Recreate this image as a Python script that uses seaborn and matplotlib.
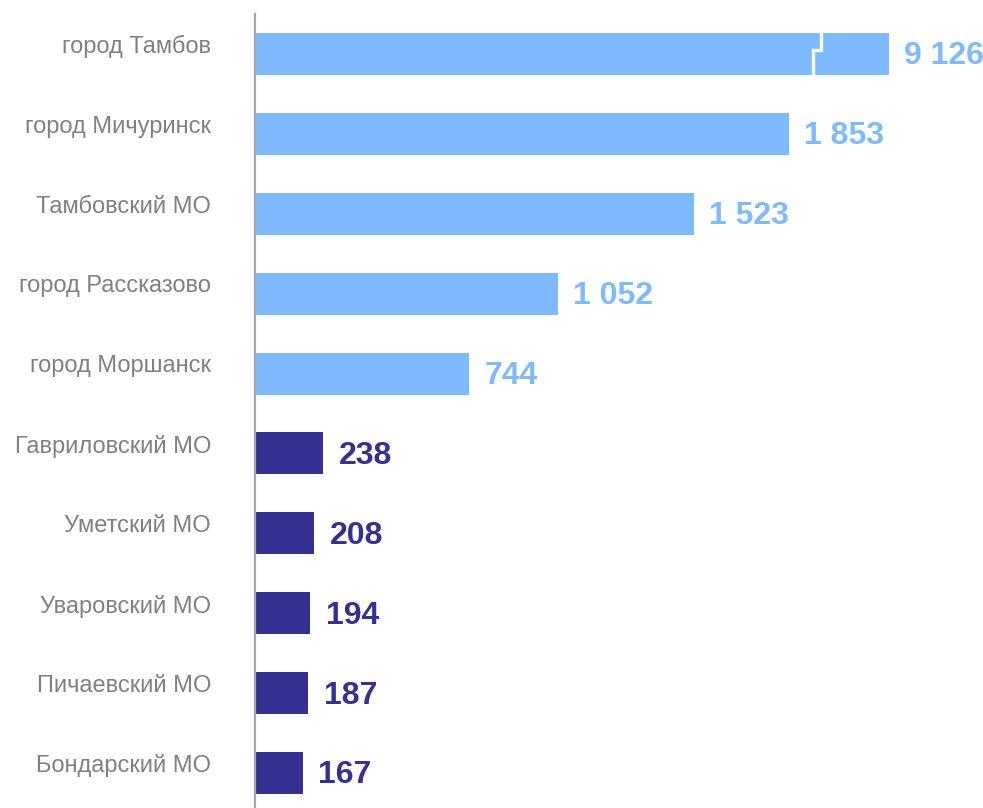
import numpy as np
import pandas as pd
import matplotlib
matplotlib.use("Agg")
import matplotlib.pyplot as plt
import matplotlib.transforms as mtransforms
import seaborn as sns

categories = ["город Тамбов", "город Мичуринск", "Тамбовский МО", "город Рассказово",
              "город Моршанск", "Гавриловский МО", "Уметский МО", "Уваровский МО",
              "Пичаевский МО", "Бондарский МО"]
values = [9126, 1853, 1523, 1052, 744, 238, 208, 194, 187, 167]
groups = ["city"] * 5 + ["mo"] * 5
palette = {"city": "#7FBAFF", "mo": "#353192"}
break_cap = 2200  # axis break: longer bars are truncated here

sns.set_theme(style="white")
plt.rcParams["font.family"] = ["Liberation Sans", "DejaVu Sans"]

df = pd.DataFrame({"cat": categories, "val": values, "grp": groups})
df["shown"] = np.minimum(df["val"], break_cap)

W, H = 983, 808
fig = plt.figure(figsize=(W / 100, H / 100), dpi=100)
ax_left, ax_top, ax_bottom = 254.5, 14, 813
ax = fig.add_axes([ax_left / W, (H - ax_bottom) / H, (W - ax_left) / W, (ax_bottom - ax_top) / H])

sns.barplot(data=df, x="shown", y="cat", hue="grp", palette=palette, dodge=False,
            width=0.525, legend=False, ax=ax, saturation=1, edgecolor="none")

ax.set_xlim(0, (W - ax_left) / 0.2883)
ax.set_ylim(len(categories) - 0.5, -0.5)
ax.set_xlabel("")
ax.set_ylabel("")
ax.set_xticks([])
ax.set_yticks([])
for s in ["top", "right", "bottom"]:
    ax.spines[s].set_visible(False)
ax.spines["left"].set_color("#A6A6A6")
ax.spines["left"].set_linewidth(1.6)

# category labels (right aligned, slightly above bar centre)
lbl_tr = mtransforms.blended_transform_factory(ax.transAxes, ax.transData)
for i, c in enumerate(categories):
    ax.text(-(ax_left - 211) / (W - ax_left), i - 0.09, c, transform=lbl_tr,
            ha="right", va="center", fontsize=17, color="#808080")

# value labels
for i, (v, s, g) in enumerate(zip(values, df["shown"], groups)):
    txt = f"{v:,}".replace(",", " ")
    ax.annotate(txt, xy=(s, i + 0.03), xytext=(11, 0), textcoords="offset points",
                ha="left", va="center", fontsize=23, fontweight="bold", color=palette[g])

# break mark on truncated bar
for i, (v, s) in enumerate(zip(values, df["shown"])):
    if v > break_cap:
        xl, xh = s * 0.8805, s * 0.893
        ym = i - 0.05
        ax.plot([xl, xl, xh, xh], [i + 0.3, ym, ym, i - 0.3], color="white",
                linewidth=2.4, solid_joinstyle="miter", solid_capstyle="butt")

fig.savefig("out.png", dpi=100)
